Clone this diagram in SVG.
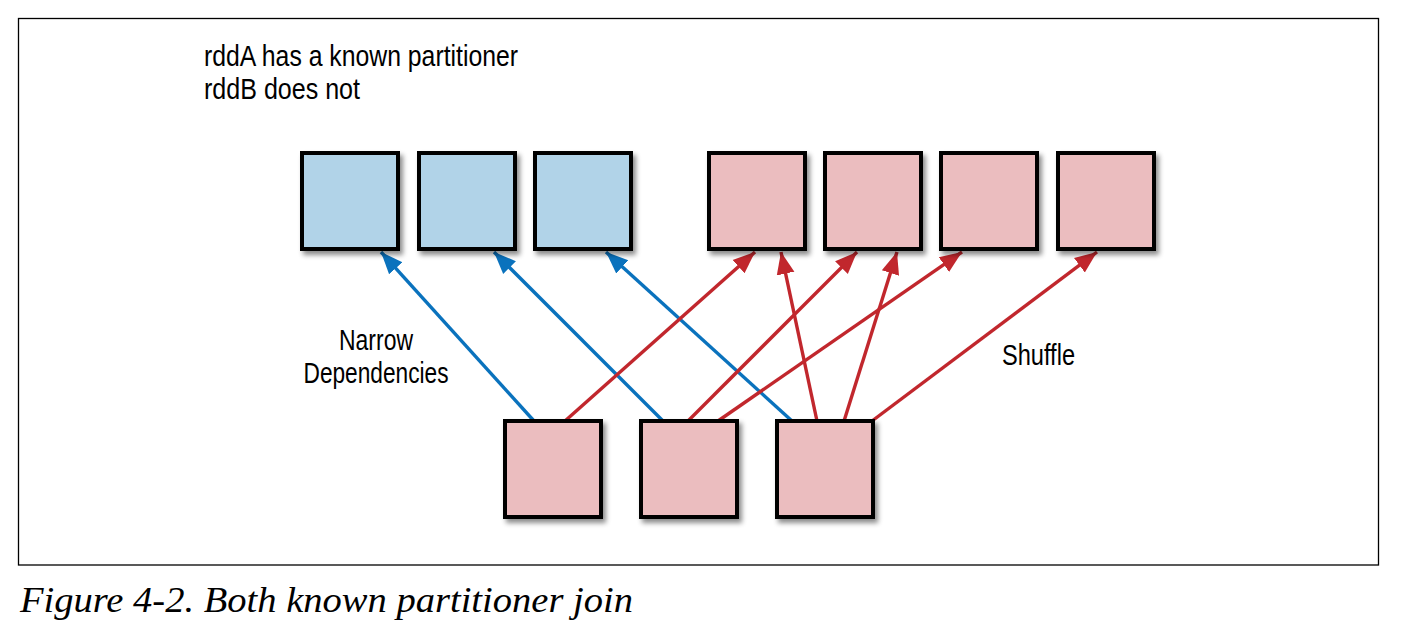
<svg xmlns="http://www.w3.org/2000/svg" width="1401" height="638" viewBox="0 0 1401 638">
<style>
.box{stroke:#000;stroke-width:4;filter:url(#sh)}
.a{fill:#b1d3e8}
.b{fill:#ebbdbf}
.lb{stroke:#0a72bd;stroke-width:3.4;fill:none;marker-end:url(#mb)}
.lr{stroke:#c1272d;stroke-width:3.4;fill:none;marker-end:url(#mr)}
.t{font-family:"Liberation Sans",Arial,sans-serif;font-size:29px;fill:#000}
.cap{font-family:"Liberation Serif","Times New Roman",serif;font-style:italic;font-size:36px;fill:#000}
</style>
<defs>
<filter id="sh" x="-20%" y="-20%" width="150%" height="150%">
<feDropShadow dx="3" dy="4" stdDeviation="2.5" flood-color="#000" flood-opacity="0.45"/>
</filter>
<marker id="mb" markerUnits="userSpaceOnUse" markerWidth="24" markerHeight="24" viewBox="0 0 24 24" refX="22" refY="12" orient="auto">
<path d="M0,3 L22,12 L0,21 Z" fill="#0a72bd"/>
</marker>
<marker id="mr" markerUnits="userSpaceOnUse" markerWidth="24" markerHeight="24" viewBox="0 0 24 24" refX="22" refY="12" orient="auto">
<path d="M0,3 L22,12 L0,21 Z" fill="#c1272d"/>
</marker>
</defs>
<rect x="18.5" y="18.5" width="1360" height="546.5" fill="none" stroke="#000" stroke-width="1.3"/>
<g id="labels">
<text class="t" x="204" y="66" textLength="314" lengthAdjust="spacingAndGlyphs">rddA has a known partitioner</text>
<text class="t" x="204" y="99" textLength="156" lengthAdjust="spacingAndGlyphs">rddB does not</text>
<text class="t" x="376" y="350" text-anchor="middle" textLength="74" lengthAdjust="spacingAndGlyphs">Narrow</text>
<text class="t" x="376" y="383" text-anchor="middle" textLength="145" lengthAdjust="spacingAndGlyphs">Dependencies</text>
<text class="t" x="1002" y="365" textLength="73" lengthAdjust="spacingAndGlyphs">Shuffle</text>
</g>
<g id="connectors">
<line class="lb" x1="534" y1="421" x2="381" y2="252"/>
<line class="lb" x1="663" y1="421" x2="494" y2="252"/>
<line class="lb" x1="792" y1="421" x2="606" y2="252"/>
<line class="lr" x1="565" y1="421" x2="755" y2="252"/>
<line class="lr" x1="817" y1="421" x2="781" y2="252"/>
<line class="lr" x1="688" y1="421" x2="857" y2="252"/>
<line class="lr" x1="844" y1="421" x2="897" y2="252"/>
<line class="lr" x1="718" y1="421" x2="962" y2="252"/>
<line class="lr" x1="872" y1="421" x2="1097" y2="252"/>
</g>
<g id="a1"><rect class="box a" x="302" y="153" width="96" height="96"/></g>
<g id="a2"><rect class="box a" x="419" y="153" width="96" height="96"/></g>
<g id="a3"><rect class="box a" x="535" y="153" width="96" height="96"/></g>
<g id="b1"><rect class="box b" x="709" y="153" width="96" height="96"/></g>
<g id="b2"><rect class="box b" x="825" y="153" width="96" height="96"/></g>
<g id="b3"><rect class="box b" x="941" y="153" width="96" height="96"/></g>
<g id="b4"><rect class="box b" x="1058" y="153" width="96" height="96"/></g>
<g id="c1"><rect class="box b" x="505" y="421" width="96" height="96"/></g>
<g id="c2"><rect class="box b" x="641" y="421" width="96" height="96"/></g>
<g id="c3"><rect class="box b" x="777" y="421" width="96" height="96"/></g>
<g id="caption"><text class="cap" x="20" y="612" textLength="613" lengthAdjust="spacingAndGlyphs">Figure 4-2. Both known partitioner join</text></g>
</svg>
